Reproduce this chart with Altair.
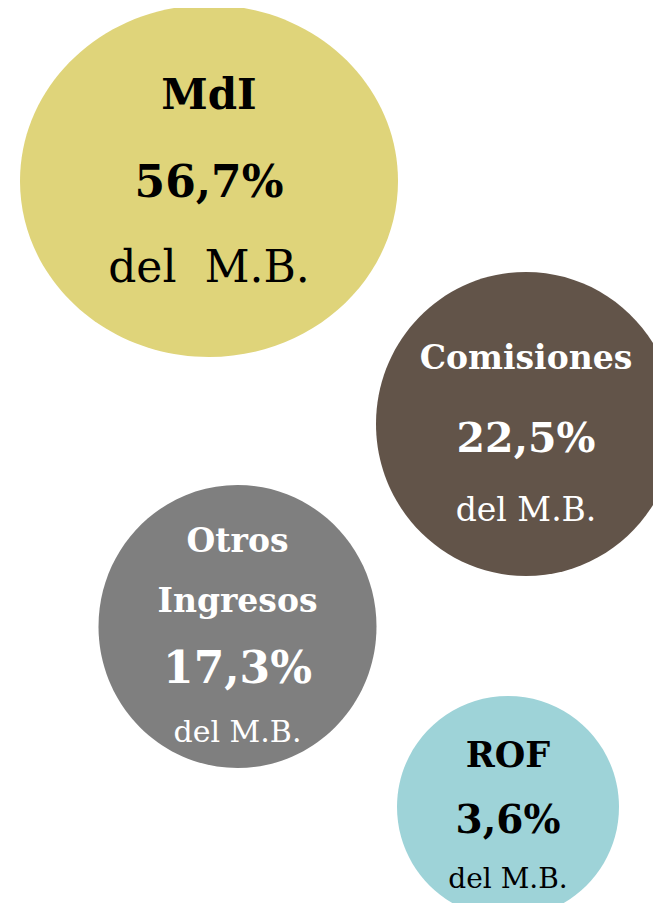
import altair as alt
import pandas as pd

# ---- data ----
categories = ["MdI", "Comisiones", "Otros Ingresos", "ROF"]
name_lines = [["MdI"], ["Comisiones"], ["Otros", "Ingresos"], ["ROF"]]
shares = [56.7, 22.5, 17.3, 3.6]
suffixes = ["del\u00a0 M.B.", "del M.B.", "del M.B.", "del M.B."]

# ---- styles ----
fill_colors = ["#DFD47A", "#625449", "#7F7F7F", "#9ED3D8"]
text_colors = ["#000000", "#FFFFFF", "#FFFFFF", "#000000"]
FONT = "DejaVu Serif"

# ---- layout (page pixel coordinates) ----
center_x = [209, 526, 237.5, 508]
center_y = [181, 424, 626.5, 807]
diam_x = [378, 300, 278, 222]
diam_y = [352, 304, 283, 222]
name_baselines = [[109], [369], [552, 612], [767]]
pct_baselines = [197, 452, 683, 833]
suffix_baselines = [282, 521, 742, 888]
name_sizes = [42, 33, 33, 35]
pct_sizes = [44, 41, 44, 39]
suffix_sizes = [44, 33, 30, 28]

W, H = 661, 911
M = 8

bubbles = pd.DataFrame({
    "cat": categories,
    "cx": center_x,
    "cy": center_y,
    "sz": [d * d for d in diam_x],
    "shape": [
        f"M-1,0A1,{dy / dx:.4f} 0 1,0 1,0A1,{dy / dx:.4f} 0 1,0 -1,0Z"
        for dx, dy in zip(diam_x, diam_y)
    ],
    "fill": fill_colors,
})

rows = []
for i, cat in enumerate(categories):
    for line, yb in zip(name_lines[i], name_baselines[i]):
        rows.append(dict(t=line, x=center_x[i], y=yb, s=name_sizes[i], bold=True, c=text_colors[i]))
    pct = f"{shares[i]:.1f}".replace(".", ",") + "%"
    rows.append(dict(t=pct, x=center_x[i], y=pct_baselines[i], s=pct_sizes[i], bold=True, c=text_colors[i]))
    rows.append(dict(t=suffixes[i], x=center_x[i], y=suffix_baselines[i], s=suffix_sizes[i], bold=False, c=text_colors[i]))
texts = pd.DataFrame(rows)

# the chart sits inside the page's 8px margin on every side
xs = alt.Scale(domain=[M, W - M], range=[0, W - 2 * M])
ys = alt.Scale(domain=[M, H - M], range=[0, H - 2 * M])

circles = alt.Chart(bubbles).mark_point(filled=True, opacity=1, strokeWidth=0).encode(
    x=alt.X("cx:Q", scale=xs, axis=None),
    y=alt.Y("cy:Q", scale=ys, axis=None),
    size=alt.Size("sz:Q", scale=None, legend=None),
    shape=alt.Shape("shape:N", scale=None, legend=None),
    color=alt.Color("fill:N", scale=None, legend=None),
)

def text_layer(bold):
    return alt.Chart(texts).transform_filter(
        alt.datum.bold if bold else ~alt.datum.bold
    ).mark_text(
        font=FONT, fontWeight="bold" if bold else "normal",
        align="center", baseline="alphabetic",
    ).encode(
        x=alt.X("x:Q", scale=xs, axis=None),
        y=alt.Y("y:Q", scale=ys, axis=None),
        text="t:N",
        size=alt.Size("s:Q", scale=None, legend=None),
        color=alt.Color("c:N", scale=None, legend=None),
    )

chart = alt.layer(circles, text_layer(True), text_layer(False)).properties(
    width=W - 2 * M, height=H - 2 * M, padding=0, autosize="none",
    background="white",
).configure_view(stroke=None, clip=False)

chart.save("out.html", embed_options={"renderer": "svg", "actions": False})
